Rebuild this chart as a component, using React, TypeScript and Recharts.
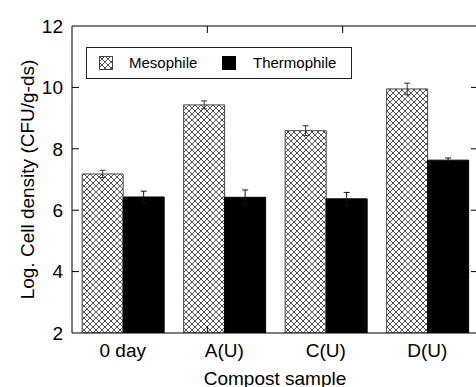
import { BarChart, Bar, XAxis, YAxis, ErrorBar, Legend, Label } from 'recharts'

const samples = ['0 day', 'A(U)', 'C(U)', 'D(U)']
const mesophile = [7.18, 9.43, 8.59, 9.95]
const mesophileErr = [0.12, 0.13, 0.16, 0.19]
const thermophile = [6.43, 6.42, 6.37, 7.63]
const thermophileErr = [0.19, 0.24, 0.21, 0.07]
const yTicks = [2, 4, 6, 8, 10, 12]
const innerYTicks = [4, 6, 8, 10]

const data = samples.map((sample, i) => ({
  sample,
  meso: mesophile[i],
  mesoErr: mesophileErr[i],
  thermo: thermophile[i],
  thermoErr: thermophileErr[i],
}))

// boundaries between categories, used for the frame ticks
const boundaries = samples.slice(1).map((_, i) => i + 1)

const font = '"Liberation Sans", Arial, sans-serif'
const blank = () => ''

function HatchIcon() {
  return (
    <svg width={14} height={14} style={{ display: 'block' }}>
      <rect x={0.5} y={0.5} width={13} height={13} fill="url(#xhatch)" stroke="#444" />
    </svg>
  )
}

function LegendBox({ payload }: { payload?: { value: string }[] }) {
  const items = payload ?? []
  const iconLeft = [12, 135]
  const textLeft = [42, 166]
  return (
    <div
      style={{
        position: 'relative',
        width: 266,
        height: 32,
        boxSizing: 'border-box',
        border: '1px solid #222',
        background: '#fff',
        fontFamily: font,
        fontSize: 15,
        color: '#000',
      }}
    >
      {items.map((p, i) => (
        <div key={p.value}>
          <div style={{ position: 'absolute', left: iconLeft[i], top: 8 }}>
            {i === 0 ? (
              <HatchIcon />
            ) : (
              <div style={{ width: 14, height: 14, background: '#000' }} />
            )}
          </div>
          <span style={{ position: 'absolute', left: textLeft[i], top: 7, lineHeight: '15px' }}>
            {p.value}
          </span>
        </div>
      ))}
    </div>
  )
}

export default function App() {
  return (
    <div
      style={{
        position: 'absolute',
        left: 0,
        top: 0,
        width: 476,
        height: 387,
        overflow: 'hidden',
        background: '#fff',
      }}
    >
      <BarChart
        width={480}
        height={387}
        data={data}
        margin={{ top: 26, right: 2, bottom: 0, left: 0 }}
        barCategoryGap="10%"
        barGap={0}
        style={{ fontFamily: font }}
      >
        <defs>
          <pattern id="xhatch" width={6} height={6} patternUnits="userSpaceOnUse">
            <rect width={6} height={6} fill="#fff" />
            <path d="M0,0 L6,6 M6,0 L0,6" stroke="#555" strokeWidth={1} />
          </pattern>
        </defs>

        <XAxis
          dataKey="sample"
          height={54}
          tickLine={false}
          tickSize={0}
          tickMargin={11}
          axisLine={{ stroke: '#000' }}
          tick={{ fontSize: 19, fill: '#000' }}
        >
          <Label value="Compost sample" position="insideBottom" offset={2} fontSize={19} fill="#000" />
        </XAxis>
        <XAxis
          xAxisId="bottomFrame"
          type="number"
          domain={[0, samples.length]}
          ticks={boundaries}
          orientation="bottom"
          mirror
          height={10}
          axisLine={false}
          tickSize={7}
          tickLine={{ stroke: '#000' }}
          tickFormatter={blank}
        />
        <XAxis
          xAxisId="topFrame"
          type="number"
          domain={[0, samples.length]}
          ticks={boundaries}
          orientation="top"
          mirror
          height={10}
          axisLine={{ stroke: '#000' }}
          tickSize={7}
          tickLine={{ stroke: '#000' }}
          tickFormatter={blank}
        />

        <YAxis
          width={72}
          domain={[2, 12]}
          ticks={yTicks}
          allowDataOverflow
          tickLine={false}
          tickSize={0}
          tickMargin={9}
          axisLine={{ stroke: '#000' }}
          tick={{ fontSize: 19, fill: '#000' }}
        >
          <Label
            value="Log. Cell density (CFU/g-ds)"
            angle={-90}
            position="insideLeft"
            offset={27}
            fontSize={19}
            fill="#000"
            style={{ textAnchor: 'middle' }}
          />
        </YAxis>
        <YAxis
          yAxisId="leftFrame"
          domain={[2, 12]}
          ticks={innerYTicks}
          allowDataOverflow
          mirror
          width={10}
          axisLine={false}
          tickSize={7}
          tickLine={{ stroke: '#000' }}
          tickFormatter={blank}
        />
        <YAxis
          yAxisId="rightFrame"
          orientation="right"
          domain={[2, 12]}
          ticks={innerYTicks}
          allowDataOverflow
          mirror
          width={10}
          axisLine={{ stroke: '#000' }}
          tickSize={7}
          tickLine={{ stroke: '#000' }}
          tickFormatter={blank}
        />

        <Legend
          layout="vertical"
          align="center"
          verticalAlign="middle"
          wrapperStyle={{ left: 86, top: 47, width: 266, height: 32 }}
          content={(props: any) => <LegendBox payload={props.payload} />}
        />

        <Bar
          dataKey="meso"
          name="Mesophile"
          fill="url(#xhatch)"
          stroke="#444"
          strokeWidth={1}
          isAnimationActive={false}
        >
          <ErrorBar dataKey="mesoErr" width={3} stroke="#333" strokeWidth={1} isAnimationActive={false} />
        </Bar>
        <Bar
          dataKey="thermo"
          name="Thermophile"
          fill="#000"
          stroke="#000"
          strokeWidth={1}
          isAnimationActive={false}
        >
          <ErrorBar dataKey="thermoErr" width={3} stroke="#111" strokeWidth={1} isAnimationActive={false} />
        </Bar>
      </BarChart>
    </div>
  )
}
